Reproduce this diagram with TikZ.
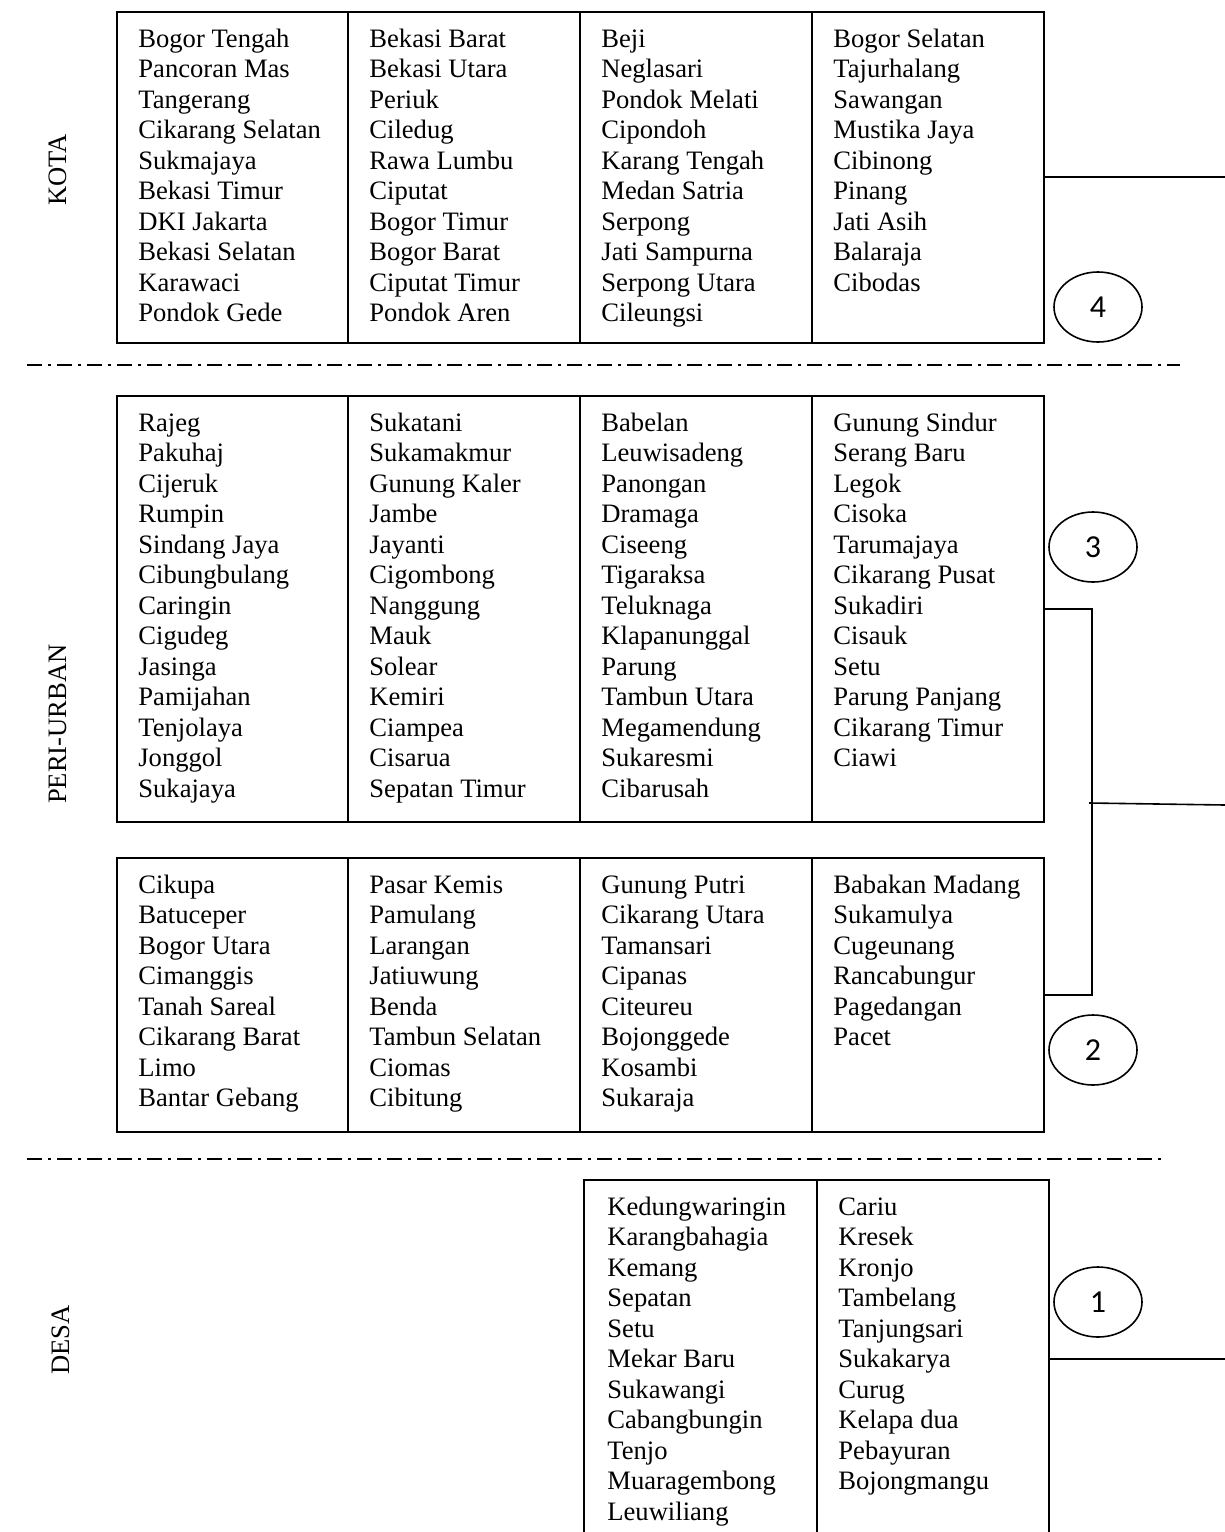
\documentclass[tikz,border=0pt]{standalone}
\usepackage{fontspec}
\setmainfont{Liberation Serif}
\newfontfamily\numfont{Carlito}
\usetikzlibrary{shapes.geometric}

\tikzset{
  box/.style={draw, line width=1pt},
  sepline/.style={line width=1.3pt, dash pattern=on 7.5pt off 3pt on 1.5pt off 3pt},
  link/.style={line width=0.8pt},
  rank/.style={draw, ellipse, line width=0.8pt, minimum width=44pt, minimum height=35pt, inner sep=0pt, font=\numfont\fontsize{16}{16}\selectfont},
  place/.style={anchor=base west, inner sep=0pt, font=\fontsize{13.3}{15}\selectfont},
  zone/.style={rotate=90, anchor=base, inner sep=0pt, font=\fontsize{13.3}{15}\selectfont},
}

% one column of names: x, first baseline, prefix, list
\newcommand{\placecol}[4]{%
  \foreach \nm [count=\i from 0] in {#4}
    \node[place] (#3-\i) at (#1, #2 + 30.5*\i) {\nm};
}

\begin{document}
\begin{tikzpicture}[x=0.5pt, y=-0.5pt]
\useasboundingbox (0,0) rectangle (1225,1532);

% zone labels
\node[zone] (kota) at (66, 170) {KOTA};
\node[zone] (peri) at (66, 724) {PERI-URBAN};
\node[zone] (desa) at (69, 1340) {DESA};

% kota box
\draw[box] (117,12) rectangle (1044,343);
\draw[box] (348,12) -- (348,343) (580,12) -- (580,343) (812,12) -- (812,343);
\placecol{138}{47}{ka}{Bogor Tengah, Pancoran Mas, Tangerang, Cikarang Selatan, Sukmajaya, Bekasi Timur, DKI Jakarta, Bekasi Selatan, Karawaci, Pondok Gede}
\placecol{369}{47}{kb}{Bekasi Barat, Bekasi Utara, Periuk, Ciledug, Rawa Lumbu, Ciputat, Bogor Timur, Bogor Barat, Ciputat Timur, Pondok Aren}
\placecol{601}{47}{kc}{Beji, Neglasari, Pondok Melati, Cipondoh, Karang Tengah, Medan Satria, Serpong, Jati Sampurna, Serpong Utara, Cileungsi}
\placecol{833}{47}{kd}{Bogor Selatan, Tajurhalang, Sawangan, Mustika Jaya, Cibinong, Pinang, Jati Asih, Balaraja, Cibodas}

\draw[sepline] (27,365) -- (1180,365);

% peri-urban, upper box
\draw[box] (117,396) rectangle (1044,822);
\draw[box] (348,396) -- (348,822) (580,396) -- (580,822) (812,396) -- (812,822);
\placecol{138}{431}{pa}{Rajeg, Pakuhaj, Cijeruk, Rumpin, Sindang Jaya, Cibungbulang, Caringin, Cigudeg, Jasinga, Pamijahan, Tenjolaya, Jonggol, Sukajaya}
\placecol{369}{431}{pb}{Sukatani, Sukamakmur, Gunung Kaler, Jambe, Jayanti, Cigombong, Nanggung, Mauk, Solear, Kemiri, Ciampea, Cisarua, Sepatan Timur}
\placecol{601}{431}{pc}{Babelan, Leuwisadeng, Panongan, Dramaga, Ciseeng, Tigaraksa, Teluknaga, Klapanunggal, Parung, Tambun Utara, Megamendung, Sukaresmi, Cibarusah}
\placecol{833}{431}{pd}{Gunung Sindur, Serang Baru, Legok, Cisoka, Tarumajaya, Cikarang Pusat, Sukadiri, Cisauk, Setu, Parung Panjang, Cikarang Timur, Ciawi}

% peri-urban, lower box
\draw[box] (117,858) rectangle (1044,1132);
\draw[box] (348,858) -- (348,1132) (580,858) -- (580,1132) (812,858) -- (812,1132);
\placecol{138}{893}{qa}{Cikupa, Batuceper, Bogor Utara, Cimanggis, Tanah Sareal, Cikarang Barat, Limo, Bantar Gebang}
\placecol{369}{893}{qb}{Pasar Kemis, Pamulang, Larangan, Jatiuwung, Benda, Tambun Selatan, Ciomas, Cibitung}
\placecol{601}{893}{qc}{Gunung Putri, Cikarang Utara, Tamansari, Cipanas, Citeureu, Bojonggede, Kosambi, Sukaraja}
\placecol{833}{893}{qd}{Babakan Madang, Sukamulya, Cugeunang, Rancabungur, Pagedangan, Pacet}

\draw[sepline] (27,1159) -- (1165,1159);

% desa box, runs off the page
\draw[box] (584,1532) -- (584,1180) -- (1049,1180) -- (1049,1532);
\draw[box] (817,1180) -- (817,1532);
\placecol{607}{1215}{da}{Kedungwaringin, Karangbahagia, Kemang, Sepatan, Setu, Mekar Baru, Sukawangi, Cabangbungin, Tenjo, Muaragembong, Leuwiliang}
\placecol{838}{1215}{db}{Cariu, Kresek, Kronjo, Tambelang, Tanjungsari, Sukakarya, Curug, Kelapa dua, Pebayuran, Bojongmangu}

% ranks
\node[rank] (c4) at (1098,307) {4};
\node[rank] (c3) at (1093,547) {3};
\node[rank] (c2) at (1093,1050) {2};
\node[rank] (c1) at (1098,1302) {1};

% links to the right edge
\coordinate (kotaR) at (1044,177);
\coordinate (kotaE) at (1225,177);
\coordinate (periA) at (1044,609);
\coordinate (periB) at (1044,995);
\coordinate (brkTop) at (1092,609);
\coordinate (brkBot) at (1092,995);
\coordinate (brkMid) at (1089,803);
\coordinate (periE) at (1225,805);
\coordinate (desaR) at (1049,1359);
\coordinate (desaE) at (1225,1359);

\draw[link] (kotaR) -- (kotaE);
\draw[link] (periA) -- (brkTop) -- (brkBot) -- (periB);
\draw[link] (brkMid) -- (periE);
\draw[link] (desaR) -- (desaE);
\end{tikzpicture}
\end{document}
